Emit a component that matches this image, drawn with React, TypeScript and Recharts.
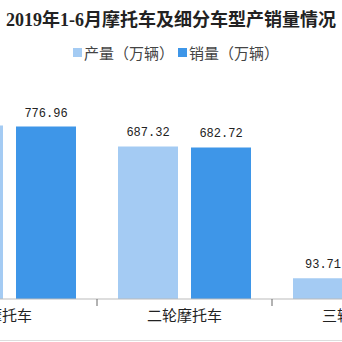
import { BarChart, Bar, XAxis, YAxis, LabelList } from 'recharts';

const categories = ['摩托车', '二轮摩托车', '三轮摩托车'];
const production = [781.03, 687.32, 93.71];
const sales = [776.96, 682.72, 94.24];

const data = categories.map((name, i) => ({ name, production: production[i], sales: sales[i] }));

const LIGHT = '#a4cbf3';
const DARK = '#3e96e8';

// ticks sit on category boundaries, labels in the middle
const CategoryTick = (props: any) => {
  const { x, y, payload } = props;
  const half = 87.5;
  return (
    <g>
      <line x1={x + half} y1={y - 8} x2={x + half} y2={y - 1} stroke="#666" />
      <text x={x} y={y + 14} textAnchor="middle" fill="#222" fontSize={15} fontFamily="'Noto Sans CJK SC', sans-serif">
        {payload.value}
      </text>
    </g>
  );
};

export default function App() {
  return (
    <div style={{ position: 'fixed', left: 0, top: 0, width: 342, height: 342, overflow: 'hidden', background: '#fff' }}>
      <div style={{ position: 'absolute', top: 5, left: 0, width: 342, textAlign: 'center', fontSize: 18, fontWeight: 'bold', color: '#222', fontFamily: "'Liberation Serif', 'Noto Sans CJK SC', serif", whiteSpace: 'nowrap' }}>
        2019年1-6月摩托车及细分车型产销量情况
      </div>
      <div style={{ position: 'absolute', top: 42, left: 73, display: 'flex', alignItems: 'center', fontSize: 15, color: '#444', fontFamily: "'Noto Sans CJK SC', sans-serif", whiteSpace: 'nowrap' }}>
        <span style={{ width: 9, height: 9, background: LIGHT, marginRight: 2 }} />
        <span>产量（万辆）</span>
        <span style={{ width: 9, height: 9, background: DARK, marginLeft: 4, marginRight: 2 }} />
        <span>销量（万辆）</span>
      </div>
      <div style={{ position: 'absolute', left: -78, top: 77 }}>
        <BarChart width={525} height={263} data={data} margin={{ top: 0, right: 0, left: 0, bottom: 0 }} barGap={13}>
          <YAxis hide domain={[0, 1000]} />
          <XAxis dataKey="name" height={41} axisLine={{ stroke: '#bbb' }} tickLine={false} interval={0} tick={<CategoryTick />} />
          <Bar dataKey="production" fill={LIGHT} barSize={60} isAnimationActive={false}>
            <LabelList dataKey="production" position="top" offset={10} fill="#222" fontSize={12} fontFamily="'Liberation Mono', monospace" />
          </Bar>
          <Bar dataKey="sales" fill={DARK} barSize={60} isAnimationActive={false}>
            <LabelList dataKey="sales" position="top" offset={10} fill="#222" fontSize={12} fontFamily="'Liberation Mono', monospace" />
          </Bar>
        </BarChart>
      </div>
      <div style={{ position: 'absolute', left: 0, top: 340, width: 342, height: 1, background: '#ddd' }} />
    </div>
  );
}
